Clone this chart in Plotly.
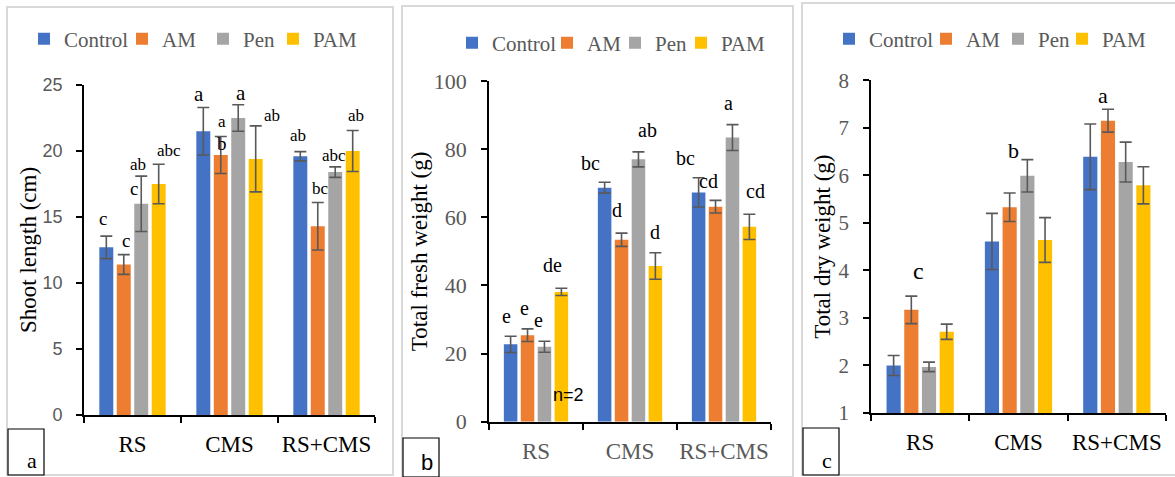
import plotly.graph_objects as go

# ---------------------------------------------------------------- data
categories = ["RS", "CMS", "RS+CMS"]
series_names = ["Control", "AM", "Pen", "PAM"]

# (a) shoot length, cm
shoot_control = [12.7, 21.5, 19.6]
shoot_am = [11.4, 19.7, 14.3]
shoot_pen = [16.0, 22.5, 18.4]
shoot_pam = [17.5, 19.4, 20.0]
shoot_control_se = [0.85, 1.8, 0.35]
shoot_am_se = [0.75, 1.4, 1.8]
shoot_pen_se = [2.1, 1.0, 0.4]
shoot_pam_se = [1.5, 2.5, 1.55]

# (b) total fresh weight, g
fresh_control = [22.7, 68.7, 67.3]
fresh_am = [25.4, 53.4, 63.1]
fresh_pen = [22.0, 77.0, 83.4]
fresh_pam = [38.1, 45.7, 57.2]
fresh_control_se = [2.4, 1.6, 4.3]
fresh_am_se = [1.85, 1.95, 1.85]
fresh_pen_se = [1.6, 2.2, 3.8]
fresh_pam_se = [1.05, 3.9, 3.7]

# (c) total dry weight, g
dry_control = [2.0, 4.61, 6.39]
dry_am = [3.17, 5.33, 7.15]
dry_pen = [1.97, 5.99, 6.28]
dry_pam = [2.71, 4.64, 5.79]
dry_control_se = [0.21, 0.59, 0.69]
dry_am_se = [0.29, 0.3, 0.24]
dry_pen_se = [0.1, 0.34, 0.42]
dry_pam_se = [0.16, 0.47, 0.39]

# significance letters: (category index, series index, letter)
shoot_letters = [(0, 0, "c"), (0, 1, "c"), (0, 2, "ab"), (0, 2, "c"), (0, 3, "abc"),
                 (1, 0, "a"), (1, 1, "a"), (1, 1, "b"), (1, 2, "a"), (1, 3, "ab"),
                 (2, 0, "ab"), (2, 1, "bc"), (2, 2, "abc"), (2, 3, "ab")]
fresh_letters = [(0, 0, "e"), (0, 1, "e"), (0, 2, "e"), (0, 3, "de"),
                 (1, 0, "bc"), (1, 1, "d"), (1, 2, "ab"), (1, 3, "d"),
                 (2, 0, "bc"), (2, 1, "cd"), (2, 2, "a"), (2, 3, "cd")]
dry_letters = [(0, 1, "c"), (1, 2, "b"), (2, 1, "a")]

# ---------------------------------------------------------------- style
W, H = 1175, 477
COLORS = ["#4472C4", "#ED7D31", "#A5A5A5", "#FFC000"]
SERIF = "Liberation Serif"
SANS = "Liberation Sans"
GREY = "#595959"

# letter placement (px): x offset from category centre, y offset above error-bar top, font size
shoot_letter_pos = [(-30, 16, 19), (-7, 12, 19), (5, 10, 17), (1, -14, 19), (36, 12, 17),
                    (-31, 11, 21), (-8, 13, 17), (-8, -9, 19), (11, 10, 21), (42, 8, 17),
                    (-29, 14, 17), (-6, 12, 17), (7, 9, 17), (29, 13, 17)]
fresh_letter_pos = [(-30, 18, 20), (-12, 19, 20), (2, 19, 20), (16, 21, 20),
                    (-40, 17, 20), (-13, 21, 20), (17, 20, 20), (25, 19, 20),
                    (-39, 18, 20), (-16, 17, 20), (4, 20, 20), (31, 21, 20)]
dry_letter_pos = [(-2, 23, 24), (-5, 7, 22), (-14, 12, 22)]


def px(x):
    return x / W


def py(y):
    return 1 - y / H


panels = [
    dict(vals=[shoot_control, shoot_am, shoot_pen, shoot_pam],
         errs=[shoot_control_se, shoot_am_se, shoot_pen_se, shoot_pam_se],
         letters=shoot_letters, letter_pos=shoot_letter_pos,
         title="Shoot length (cm)", rng=[0, 25], dtick=5,
         xdom=[84, 375], ydom=[415, 85], title_standoff=0,
         tickfont=dict(family=SANS, size=18, color=GREY),
         catfont=dict(family=SERIF, size=23, color="black"),
         legend_x=24, legend_y=39, entry=[53, 36, 25, 45],
         frame=[7, 7, 393, 475], tag="a",
         tagbox=[8, 429, 44, 475], tagfont=SERIF),
    dict(vals=[fresh_control, fresh_am, fresh_pen, fresh_pam],
         errs=[fresh_control_se, fresh_am_se, fresh_pen_se, fresh_pam_se],
         letters=fresh_letters, letter_pos=fresh_letter_pos,
         title="Total fresh weight (g)", rng=[0, 100], dtick=20,
         xdom=[489, 771], ydom=[421.7, 81], title_standoff=0,
         tickfont=dict(family=SERIF, size=22, color=GREY),
         catfont=dict(family=SERIF, size=23, color=GREY),
         legend_x=452, legend_y=43, entry=[50, 23, 21, 45],
         frame=[402, 6, 793, 477], tag="b",
         tagbox=[403, 438, 439, 477], tagfont=SANS),
    dict(vals=[dry_control, dry_am, dry_pen, dry_pam],
         errs=[dry_control_se, dry_am_se, dry_pen_se, dry_pam_se],
         letters=dry_letters, letter_pos=dry_letter_pos,
         title="Total dry weight (g)", rng=[1, 8], dtick=1,
         xdom=[871, 1166], ydom=[413, 80.3], title_standoff=1,
         tickfont=dict(family=SERIF, size=21, color=GREY),
         catfont=dict(family=SERIF, size=23, color="black"),
         legend_x=829, legend_y=39, entry=[52, 27, 19, 45],
         frame=[802, 3, 1180, 475], tag="c",
         tagbox=[803, 428, 839, 475], tagfont=SERIF),
]

fig = go.Figure()
layout = dict(
    template="none",
    width=W, height=H, autosize=False,
    margin=dict(l=0, r=0, t=0, b=0, pad=0),
    paper_bgcolor="white", plot_bgcolor="rgba(0,0,0,0)",
    barmode="group", bargap=0.28, bargroupgap=0.2,
    showlegend=True,
)
shapes, annotations = [], []

for p_i, p in enumerate(panels):
    n = p_i + 1
    sfx = "" if n == 1 else str(n)
    ov = str(n + 3)
    xa, ya = "x" + sfx, "y" + sfx
    legend_id = "legend" + sfx

    for s_i, name in enumerate(series_names):
        fig.add_trace(go.Bar(
            x=categories, y=p["vals"][s_i], name=name,
            marker=dict(color=COLORS[s_i], line=dict(width=0)),
            error_y=dict(type="data", array=p["errs"][s_i], visible=True,
                         color=GREY, thickness=1.6, width=6),
            xaxis=xa, yaxis=ya, legend=legend_id,
            legendwidth=p["entry"][s_i],
        ))

    x0, x1 = p["xdom"]
    yb, yt = p["ydom"]
    axis_line = dict(showline=True, linecolor="black", linewidth=1.6,
                     showgrid=False, zeroline=False, automargin=False)

    layout["xaxis" + sfx] = dict(
        domain=[px(x0), px(x1)], anchor=ya, type="category",
        range=[-0.5, 2.5], tickson="boundaries", ticks="outside",
        ticklen=6, tickwidth=1.6, tickcolor="black", tickangle=0,
        tickfont=p["catfont"], ticklabelstandoff=8, **axis_line)
    layout["yaxis" + sfx] = dict(
        domain=[py(yb), py(yt)], anchor=xa, range=p["rng"],
        tick0=0, dtick=p["dtick"], ticks="outside", ticklen=6,
        tickwidth=1.6, tickcolor="black", tickfont=p["tickfont"],
        ticklabelstandoff=10,
        title=dict(text=p["title"], font=dict(family=SERIF, size=23, color="black"),
                   standoff=p["title_standoff"]), **axis_line)
    # inner half of the crossing tick marks
    layout["xaxis" + ov] = dict(
        domain=[px(x0), px(x1)], anchor=ya, overlaying=xa, range=[-0.5, 2.5],
        tickvals=[-0.5, 0.5, 1.5, 2.5], ticks="inside", ticklen=6,
        tickwidth=1.6, tickcolor="black", showticklabels=False,
        showline=False, showgrid=False, zeroline=False, automargin=False)
    layout["yaxis" + ov] = dict(
        domain=[py(yb), py(yt)], anchor=xa, overlaying=ya, range=p["rng"],
        tick0=0, dtick=p["dtick"], ticks="inside", ticklen=6,
        tickwidth=1.6, tickcolor="black", showticklabels=False,
        showline=False, showgrid=False, zeroline=False, automargin=False)

    layout[legend_id] = dict(
        orientation="h", x=px(p["legend_x"]), y=py(p["legend_y"]),
        xanchor="left", yanchor="middle", itemwidth=30,
        font=dict(family=SERIF, size=21, color=GREY),
        bgcolor="rgba(0,0,0,0)", borderwidth=0, traceorder="normal")

    # panel frame
    fx0, fy0, fx1, fy1 = p["frame"]
    shapes.append(dict(type="rect", xref="paper", yref="paper",
                       x0=px(fx0), x1=px(fx1), y0=py(fy1), y1=py(fy0),
                       line=dict(color="#D9D9D9", width=2), layer="below"))
    # panel tag box
    bx0, by0, bx1, by1 = p["tagbox"]
    shapes.append(dict(type="rect", xref="paper", yref="paper",
                       x0=px(bx0), x1=px(bx1), y0=py(by1), y1=py(by0),
                       line=dict(color="black", width=1.2)))
    annotations.append(dict(xref="paper", yref="paper", x=px((bx0 + bx1) / 2 + 6),
                            y=py(by1 - 15), text=p["tag"], showarrow=False,
                            xanchor="center", yanchor="middle",
                            font=dict(family=p["tagfont"], size=22, color="black")))

    # significance letters, anchored to each error-bar top
    for (c_i, s_i, txt), (dx, dy, fs) in zip(p["letters"], p["letter_pos"]):
        top = p["vals"][s_i][c_i] + p["errs"][s_i][c_i]
        annotations.append(dict(xref=xa, yref=ya, x=categories[c_i], y=top,
                                xshift=dx, yshift=dy + 2, text=txt, showarrow=False,
                                xanchor="center", yanchor="middle",
                                font=dict(family=SERIF, size=fs, color="black")))

# sample-size note on the RS / PAM fresh-weight bar
annotations.append(dict(xref="x2", yref="y2", x=categories[0], y=0, xshift=32,
                        yshift=27, text="n=2", showarrow=False,
                        xanchor="center", yanchor="middle",
                        font=dict(family=SANS, size=18, color="black")))

layout["shapes"] = shapes
layout["annotations"] = annotations
fig.update_layout(**layout)
fig.write_html("out.html")
